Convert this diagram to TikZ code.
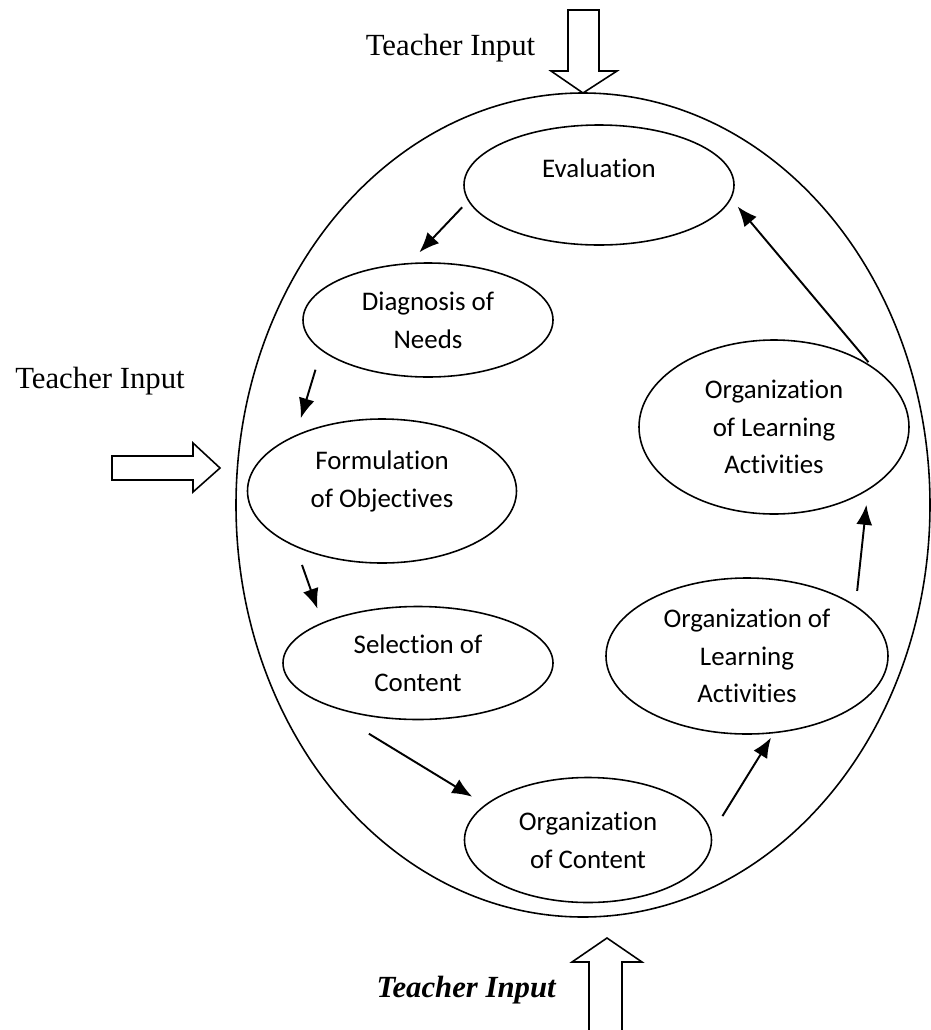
\documentclass[tikz,border=0pt]{standalone}
\usepackage{fontspec}
\setmainfont{Liberation Serif}
\newfontfamily\calib[Ligatures=NoCommon]{Carlito}
\usetikzlibrary{shapes.geometric, arrows.meta}

\begin{document}
\begin{tikzpicture}[
        stage/.style={ellipse, draw, line width=0.9pt, inner sep=0pt, align=center,
            font=\calib\fontsize{15.3}{21.5}\selectfont},
        flow/.style={-{Latex[length=4mm,width=3.2mm]}, line width=1.1pt},
        bigarrow/.style={draw, line width=0.9pt, fill=white, line join=miter},
        input/.style={anchor=base, font=\fontsize{17.5}{21}\selectfont}
    ]
    \useasboundingbox (0,0) rectangle (18.62,-20.60);

    % Outer cycle
    \draw[line width=0.9pt] (11.66,-10.10) ellipse [x radius=6.94, y radius=8.24];

    % Stages
    \node[stage, minimum width=5.40cm, minimum height=2.40cm, text depth=0.68cm] (eval) at (11.98,-3.70) {Evaluation};
    \node[stage, minimum width=5.00cm, minimum height=2.28cm] (diag) at (8.56,-6.40) {Diagnosis of\\Needs};
    \node[stage, minimum width=5.38cm, minimum height=2.88cm, text depth=0.46cm] (form) at (7.64,-9.82) {Formulation\\of Objectives};
    \node[stage, minimum width=5.40cm, minimum height=2.26cm] (sel) at (8.36,-13.26) {Selection of\\Content};
    \node[stage, minimum width=4.94cm, minimum height=2.50cm] (cont) at (11.76,-16.80) {Organization\\of Content};
    \node[stage, minimum width=5.64cm, minimum height=3.12cm] (learnA) at (14.94,-13.12) {Organization of\\Learning\\Activities};
    \node[stage, minimum width=5.40cm, minimum height=3.48cm] (learnB) at (15.48,-8.54) {Organization\\of Learning\\Activities};

    % Flow between stages
    \draw[flow, shorten <=0.17cm, shorten >=0.29cm] (eval.187) -- (diag.108);
    \draw[flow, shorten <=0.40cm, shorten >=0.35cm] (diag.196) -- (form.147);
    \draw[flow, shorten <=0.38cm, shorten >=0.29cm] (form.213) -- (sel.157);
    \draw[flow, shorten <=1.48cm, shorten >=0.30cm] (sel.196) -- (cont.161);
    \draw[flow, shorten <=0.41cm, shorten >=0.10cm] (cont.3) -- (learnA.289);
    \draw[flow, shorten <=0.29cm, shorten >=0.29cm] (learnA.25) -- (learnB.326);
    \draw[flow, shorten <=0.10cm, shorten >=0.20cm] (learnB.32) -- (eval.354);

    % Teacher input arrows
    \draw[bigarrow] (11.36,-0.20) -- (11.98,-0.20) -- (11.98,-1.42) -- (12.34,-1.42)
        -- (11.66,-1.86) -- (11.02,-1.42) -- (11.36,-1.42) -- cycle;
    \draw[bigarrow] (2.24,-9.12) -- (3.86,-9.12) -- (3.86,-8.86) -- (4.40,-9.36)
        -- (3.86,-9.84) -- (3.86,-9.60) -- (2.24,-9.60) -- cycle;
    \draw[bigarrow] (12.14,-18.76) -- (12.84,-19.24) -- (12.44,-19.24) -- (12.44,-20.90)
        -- (11.78,-20.90) -- (11.78,-19.24) -- (11.44,-19.24) -- cycle;

    % Labels
    \node[input] (inTop) at (9.01,-1.10) {Teacher Input};
    \node[input] (inLeft) at (2.00,-7.76) {Teacher Input};
    \node[input] (inBottom) at (9.33,-19.94) {\textbf{\textit{Teacher Input}}};
\end{tikzpicture}
\end{document}
